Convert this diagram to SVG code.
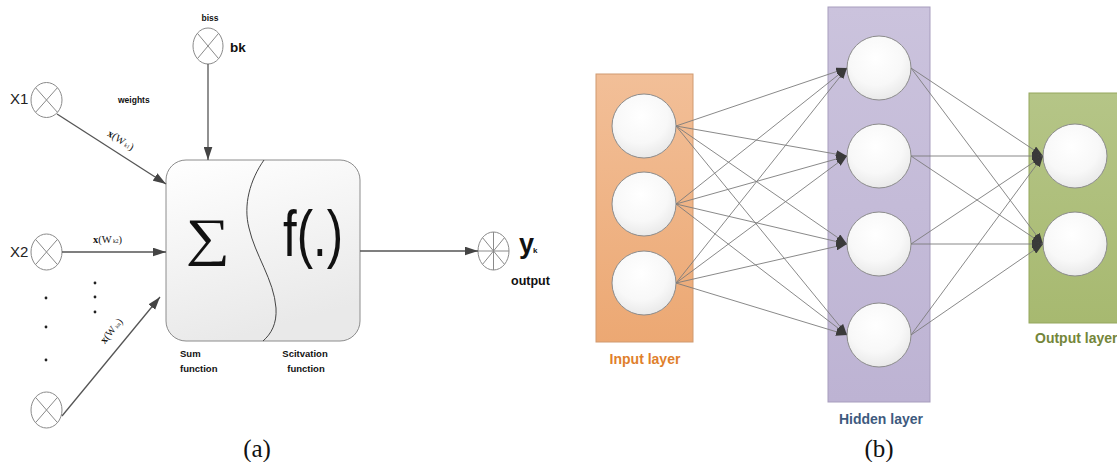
<svg xmlns="http://www.w3.org/2000/svg" width="1117" height="462" viewBox="0 0 1117 462">
  <defs>
    <style>
      .xc { fill: #ffffff; stroke: #8a8a8a; stroke-width: 1; }
      .xl { stroke: #8a8a8a; stroke-width: 1; }
      .arr { stroke: #555555; stroke-width: 1.3; fill: none; marker-end: url(#ahA); }
      .net { stroke: #7c7c7c; stroke-width: 0.9; fill: none; marker-end: url(#ahN); }
      .lbl { font-family: "Liberation Sans", Arial, sans-serif; font-weight: bold; fill: #111; }
      .xin { font-family: "Liberation Sans", Arial, sans-serif; font-size: 15px; fill: #222; }
      .wt { font-family: "Liberation Serif", "Times New Roman", serif; fill: #111; }
      .cap { font-family: "Liberation Serif", "Times New Roman", serif; font-size: 25px; fill: #111; }
      .neuron { fill: url(#gNeuron); stroke: #8c8c8c; stroke-width: 1; }
      .layerLbl { font-family: "Liberation Sans", Arial, sans-serif; font-weight: bold; font-size: 14px; }
    </style>
    <marker id="ahA" viewBox="0 0 12 8" refX="12" refY="4" markerWidth="13" markerHeight="9" markerUnits="userSpaceOnUse" orient="auto">
      <path d="M0,0 L12,4 L0,8 z" fill="#444444"/>
    </marker>
    <marker id="ahN" viewBox="0 0 11 8" refX="11" refY="4" markerWidth="11" markerHeight="8" markerUnits="userSpaceOnUse" orient="auto">
      <path d="M0,0 L11,4 L0,8 z" fill="#3a3a3a"/>
    </marker>
    <linearGradient id="gBox" x1="0" y1="0" x2="0.3" y2="1">
      <stop offset="0" stop-color="#ffffff"/>
      <stop offset="1" stop-color="#e9e9e9"/>
    </linearGradient>
    <radialGradient id="gNeuron" cx="0.45" cy="0.35" r="0.7">
      <stop offset="0" stop-color="#ffffff"/>
      <stop offset="0.6" stop-color="#f8f8f8"/>
      <stop offset="1" stop-color="#e6e6e6"/>
    </radialGradient>
    <linearGradient id="gIn" x1="0" y1="0" x2="0" y2="1">
      <stop offset="0" stop-color="#f2bf98"/>
      <stop offset="1" stop-color="#eca873"/>
    </linearGradient>
    <linearGradient id="gHid" x1="0" y1="0" x2="0" y2="1">
      <stop offset="0" stop-color="#cbc3dd"/>
      <stop offset="1" stop-color="#bdb3d3"/>
    </linearGradient>
    <linearGradient id="gOut" x1="0" y1="0" x2="0" y2="1">
      <stop offset="0" stop-color="#b5c587"/>
      <stop offset="1" stop-color="#a7b970"/>
    </linearGradient>
  </defs>

  <rect x="0" y="0" width="1117" height="462" fill="#ffffff"/>

  <!-- (a) single neuron model -->
  <g id="neuron-box">
    <rect x="166" y="160" width="194" height="181" rx="20" ry="20" fill="url(#gBox)" stroke="#8c8c8c" stroke-width="1"/>
    <path d="M264,160 C250,180 243,205 249,228 C255,255 274,280 276,308 C277,324 271,334 263,341" fill="none" stroke="#444" stroke-width="1"/>
    <text transform="translate(208,255) scale(1,0.85)" text-anchor="middle" font-family="Liberation Serif, 'Times New Roman', serif" font-size="62" fill="#111">∑</text>
    <text x="283" y="256" font-family="Liberation Sans, Arial, sans-serif" font-size="64" textLength="60" lengthAdjust="spacingAndGlyphs" fill="#111">f(.)</text>
    <text class="lbl" x="180" y="357" font-size="9.5">Sum</text>
    <text class="lbl" x="180" y="372" font-size="9.5">function</text>
    <text class="lbl" x="305" y="357" font-size="9.5" text-anchor="middle">Scitvation</text>
    <text class="lbl" x="306" y="372" font-size="9.5" text-anchor="middle">function</text>
  </g>

  <g id="bias">
    <ellipse class="xc" cx="208" cy="46" rx="15" ry="18"/>
    <line class="xl" x1="197.4" y1="33.3" x2="218.6" y2="58.7"/>
    <line class="xl" x1="218.6" y1="33.3" x2="197.4" y2="58.7"/>
    <text class="lbl" x="210" y="21" font-size="8.5" text-anchor="middle">biss</text>
    <text class="lbl" x="230" y="52" font-size="13.5">bk</text>
  </g>

  <g id="input-x1">
    <ellipse class="xc" cx="46.5" cy="100" rx="15.5" ry="17.5"/>
    <line class="xl" x1="35.5" y1="87.6" x2="57.5" y2="112.4"/>
    <line class="xl" x1="57.5" y1="87.6" x2="35.5" y2="112.4"/>
    <text class="xin" x="10" y="104">X1</text>
    <text class="lbl" x="118" y="103" font-size="8.5">weights</text>
  </g>

  <g id="input-x2">
    <ellipse class="xc" cx="46.5" cy="252" rx="15.5" ry="18"/>
    <line class="xl" x1="35.5" y1="239.3" x2="57.5" y2="264.7"/>
    <line class="xl" x1="57.5" y1="239.3" x2="35.5" y2="264.7"/>
    <text class="xin" x="10" y="257">X2</text>
  </g>

  <g id="input-xn">
    <ellipse class="xc" cx="46.5" cy="410" rx="15.5" ry="18"/>
    <line class="xl" x1="35.5" y1="397.3" x2="57.5" y2="422.7"/>
    <line class="xl" x1="57.5" y1="397.3" x2="35.5" y2="422.7"/>
  </g>

  <g id="ellipsis" fill="#222">
    <circle cx="95" cy="283" r="1.4"/>
    <circle cx="95" cy="297" r="1.4"/>
    <circle cx="95" cy="312" r="1.4"/>
    <circle cx="46" cy="298" r="1.4"/>
    <circle cx="46" cy="327" r="1.4"/>
    <circle cx="46" cy="360" r="1.4"/>
  </g>

  <g id="output-y">
    <ellipse class="xc" cx="493.5" cy="251" rx="15.5" ry="19"/>
    <line class="xl" x1="493.5" y1="232" x2="493.5" y2="270"/>
    <line class="xl" x1="478" y1="251" x2="509" y2="251"/>
    <line class="xl" x1="482.5" y1="237.6" x2="504.5" y2="264.4"/>
    <line class="xl" x1="504.5" y1="237.6" x2="482.5" y2="264.4"/>
    <text class="lbl" x="519" y="253" font-size="27">y</text>
    <text class="lbl" x="533" y="253" font-size="8">k</text>
    <text class="lbl" x="511" y="285" font-size="12.5">output</text>
  </g>

  <g id="connectors-a">
    <line class="arr" x1="57" y1="114" x2="166" y2="184"/>
    <line class="arr" x1="208" y1="64" x2="208" y2="160"/>
    <line class="arr" x1="62" y1="252" x2="166" y2="252"/>
    <line class="arr" x1="62" y1="416" x2="160" y2="297"/>
    <line class="arr" x1="360" y1="251" x2="478" y2="251"/>
    <text class="wt" transform="translate(119,143) rotate(32.7)" text-anchor="middle" font-size="10.5"><tspan font-weight="bold">x</tspan>(W<tspan font-size="5.5"> k1</tspan>)</text>
    <text class="wt" x="93" y="243" font-size="10.5"><tspan font-weight="bold">x</tspan>(W<tspan font-size="5.5"> k2</tspan>)</text>
    <text class="wt" transform="translate(114,333) rotate(-50.8)" text-anchor="middle" font-size="10.5"><tspan font-weight="bold">x</tspan>(W<tspan font-size="5.5"> kn</tspan>)</text>
  </g>

  <text class="cap" x="257" y="457" text-anchor="middle">(a)</text>

  <!-- (b) layered network -->
  <g id="input-layer">
    <rect x="596" y="74" width="97" height="268" fill="url(#gIn)" stroke="#d09a70" stroke-width="1"/>
    <circle class="neuron" cx="644" cy="126" r="32"/>
    <circle class="neuron" cx="644" cy="204" r="32"/>
    <circle class="neuron" cx="644" cy="283" r="32"/>
    <text class="layerLbl" x="645" y="364" text-anchor="middle" fill="#e07f2c">Input layer</text>
  </g>

  <g id="hidden-layer">
    <rect x="828" y="7" width="102" height="395" fill="url(#gHid)" stroke="#a79dbd" stroke-width="1"/>
    <circle class="neuron" cx="879" cy="68" r="32"/>
    <circle class="neuron" cx="879" cy="156" r="32"/>
    <circle class="neuron" cx="879" cy="244" r="32"/>
    <circle class="neuron" cx="879" cy="335" r="32"/>
    <text class="layerLbl" x="881" y="424" text-anchor="middle" fill="#3e5a7e">Hidden layer</text>
  </g>

  <g id="output-layer">
    <rect x="1029" y="93" width="95" height="230" fill="url(#gOut)" stroke="#95a75f" stroke-width="1"/>
    <circle class="neuron" cx="1075" cy="156" r="32"/>
    <circle class="neuron" cx="1075" cy="244" r="32"/>
    <text class="layerLbl" x="1035" y="343" fill="#74863a">Output layer</text>
  </g>

  <g id="connectors-b">
    <!-- input to hidden -->
    <line class="net" x1="676" y1="126" x2="847" y2="68"/>
    <line class="net" x1="676" y1="126" x2="847" y2="156"/>
    <line class="net" x1="676" y1="126" x2="847" y2="244"/>
    <line class="net" x1="676" y1="126" x2="847" y2="335"/>
    <line class="net" x1="676" y1="204" x2="847" y2="68"/>
    <line class="net" x1="676" y1="204" x2="847" y2="156"/>
    <line class="net" x1="676" y1="204" x2="847" y2="244"/>
    <line class="net" x1="676" y1="204" x2="847" y2="335"/>
    <line class="net" x1="676" y1="283" x2="847" y2="68"/>
    <line class="net" x1="676" y1="283" x2="847" y2="156"/>
    <line class="net" x1="676" y1="283" x2="847" y2="244"/>
    <line class="net" x1="676" y1="283" x2="847" y2="335"/>
    <!-- hidden to output -->
    <line class="net" x1="911" y1="68" x2="1043" y2="156"/>
    <line class="net" x1="911" y1="68" x2="1043" y2="244"/>
    <line class="net" x1="911" y1="156" x2="1043" y2="156"/>
    <line class="net" x1="911" y1="156" x2="1043" y2="244"/>
    <line class="net" x1="911" y1="244" x2="1043" y2="156"/>
    <line class="net" x1="911" y1="244" x2="1043" y2="244"/>
    <line class="net" x1="911" y1="335" x2="1043" y2="156"/>
    <line class="net" x1="911" y1="335" x2="1043" y2="244"/>
  </g>

  <text class="cap" x="879" y="457" text-anchor="middle">(b)</text>
</svg>
